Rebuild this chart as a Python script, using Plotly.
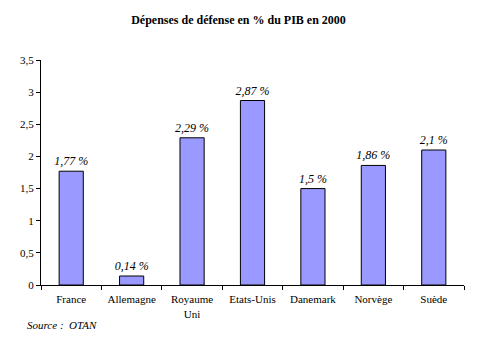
import plotly.graph_objects as go

categories = ["France", "Allemagne", "Royaume<br>Uni", "Etats-Unis", "Danemark", "Norvège", "Suède"]
values = [1.77, 0.14, 2.29, 2.87, 1.5, 1.86, 2.1]
labels = ["1,77 %", "0,14 %", "2,29 %", "2,87 %", "1,5 %", "1,86 %", "2,1 %"]
y_ticks = [0, 0.5, 1, 1.5, 2, 2.5, 3, 3.5]

serif = "Liberation Serif, Times New Roman, serif"

fig = go.Figure(go.Bar(
    x=categories, y=values, text=labels, textposition="outside",
    constraintext="none",
    textfont=dict(family=serif, size=12, color="black", style="italic"),
    marker=dict(color="#9999FF", line=dict(color="black", width=1)),
    cliponaxis=False,
))

fig.update_layout(
    width=477, height=351,
    margin=dict(l=41, r=13, t=60, b=66),
    paper_bgcolor="white", plot_bgcolor="white",
    separators=", ",
    bargap=0.6,
    showlegend=False,
    font=dict(family=serif, size=11, color="black"),
    title=dict(text="<b>Dépenses de défense en % du PIB en 2000</b>",
               x=0.5, xanchor="center", y=1 - 20 / 351, yanchor="middle",
               font=dict(family=serif, size=12, color="black")),
    annotations=[dict(text="<i>Source :  OTAN</i>", xref="paper", yref="paper",
                      x=-16 / 423, y=-40 / 225, xanchor="left", yanchor="middle",
                      showarrow=False, font=dict(family=serif, size=11, color="black"))],
)

fig.update_xaxes(showline=True, linecolor="black", linewidth=1,
                 ticks="outside", tickson="boundaries", ticklen=4, tickcolor="black",
                 ticklabelstandoff=4,
                 showgrid=False, tickfont=dict(family=serif, size=11))
fig.update_yaxes(range=[0, 3.5], tickvals=y_ticks, tickformat=".1~f",
                 showline=True, linecolor="black", linewidth=1,
                 ticks="outside", ticklen=4, tickcolor="black",
                 showgrid=False, zeroline=False, tickfont=dict(family=serif, size=11))

fig.write_html("out.html")
